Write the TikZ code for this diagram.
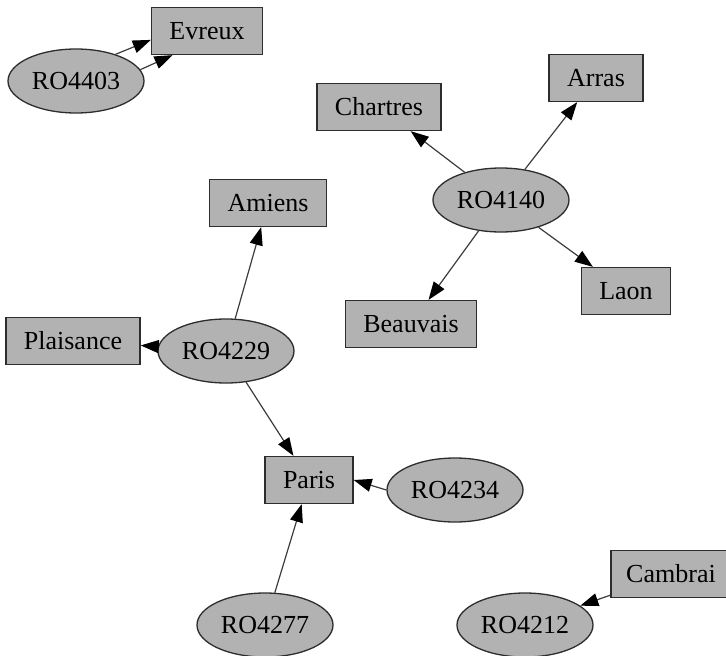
\documentclass[tikz,border=0pt]{standalone}
\usepackage{fontspec}
\setmainfont{Liberation Serif}
\usetikzlibrary{shapes.geometric,arrows.meta}
\definecolor{nodefill}{RGB}{178,178,178}
\definecolor{linecol}{RGB}{45,45,45}
\definecolor{edgecol}{RGB}{60,60,60}
\begin{document}
\begin{tikzpicture}[x=1pt,y=-1pt,
  city/.style={draw=linecol,line width=1.3pt,fill=nodefill,rectangle,
    minimum height=47pt,inner xsep=18pt,inner ysep=0pt,
    font=\fontsize{26}{30}\selectfont},
  rec/.style={draw=linecol,line width=1.3pt,fill=nodefill,ellipse,
    minimum width=136pt,minimum height=64pt,inner sep=0pt,
    font=\fontsize{26}{30}\selectfont},
  link/.style={draw=edgecol,line width=1.2pt,
    -{Triangle[length=18pt,width=13pt,black]}}]
\useasboundingbox (0,0) rectangle (726,656);
\clip (0,0) rectangle (726,656);
% nodes
\node[city] (evreux) at (207,31) {Evreux};
\node[rec]  (ro4403) at (76,81) {RO4403};
\node[city] (chartres) at (379,107) {Chartres};
\node[city] (arras) at (596,78) {Arras};
\node[rec]  (ro4140) at (501,200) {RO4140};
\node[city] (laon) at (626,291) {Laon};
\node[city] (beauvais) at (411,324) {Beauvais};
\node[city] (amiens) at (268,203) {Amiens};
\node[city] (plaisance) at (73,341) {Plaisance};
\node[rec]  (ro4229) at (226,351) {RO4229};
\node[city] (paris) at (309,480) {Paris};
\node[rec]  (ro4234) at (455,490) {RO4234};
\node[rec]  (ro4277) at (265,625) {RO4277};
\node[rec]  (ro4212) at (525,625) {RO4212};
\node[city,minimum width=120pt,inner xsep=14pt] (cambrai) at (671,574) {Cambrai};
% edges
\draw[link] (ro4403.34.7) -- (evreux.189.3);
\draw[link] (ro4403.10.3) -- (evreux.215.7);
\draw[link] (ro4140) -- (chartres);
\draw[link] (ro4140) -- (arras);
\draw[link] (ro4140) -- (laon);
\draw[link] (ro4140) -- (beauvais);
\draw[link] (ro4229) -- (amiens);
\draw[link] (ro4229) -- (plaisance);
\draw[link] (ro4229) -- (paris);
\draw[link] (ro4234.west) -- (paris.east);
\draw[link] (ro4277) -- (paris);
\draw[link] (cambrai) -- (ro4212);
\end{tikzpicture}
\end{document}
